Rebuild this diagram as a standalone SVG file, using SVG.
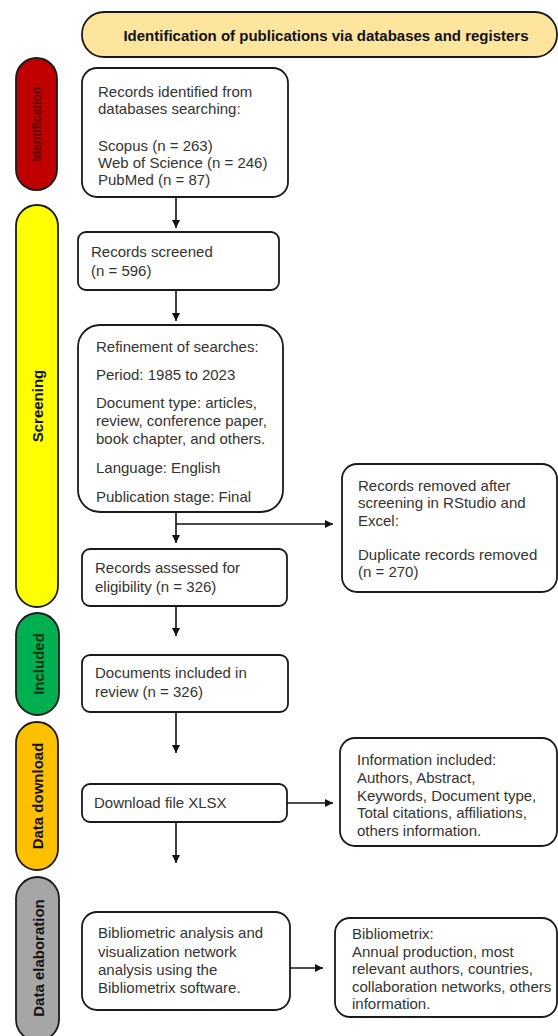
<svg xmlns="http://www.w3.org/2000/svg" width="558" height="1036" viewBox="0 0 558 1036">
<defs>
<style>
text{font-family:"Liberation Sans",Arial,sans-serif;}
.box{fill:#fff;stroke:#1a1a1a;stroke-width:1.8;}
.t{font-size:15px;fill:#333;}
.lbl{font-size:15px;font-weight:bold;fill:#111;text-anchor:middle;dominant-baseline:central;}
.pill{stroke:#1a1a1a;stroke-width:1.8;}
.conn{fill:none;stroke:#111;stroke-width:1.6;}
</style>
<marker id="ah" markerUnits="userSpaceOnUse" markerWidth="8" markerHeight="8" refX="8" refY="4" orient="auto">
<path d="M0,0 L8,4 L0,8 z" fill="#111"/>
</marker>
</defs>
<rect width="558" height="1036" fill="#fff"/>

<g id="banner">
<rect x="82" y="12" width="475" height="45" rx="22" fill="#fde59e" stroke="#1a1a1a" stroke-width="1.8"/>
<text x="326" y="35" font-size="15" font-weight="bold" fill="#111" text-anchor="middle" dominant-baseline="central">Identification of publications via databases and registers</text>
</g>

<g id="phase-identification">
<rect class="pill" x="16" y="58" width="41" height="132" rx="20.5" fill="#c00000"/>
<text class="lbl" transform="translate(37,124) rotate(-90)" style="font-size:12px;fill:#5a0000">Identification</text>
</g>
<g id="phase-screening">
<rect class="pill" x="16" y="205" width="42" height="402" rx="21" fill="#ffff00"/>
<text class="lbl" transform="translate(37,406) rotate(-90)">Screening</text>
</g>
<g id="phase-included">
<rect class="pill" x="16" y="613" width="43" height="102" rx="21.5" fill="#00b050"/>
<text class="lbl" transform="translate(38,664) rotate(-90)" style="fill:#10301a">Included</text>
</g>
<g id="phase-download">
<rect class="pill" x="16" y="722" width="42" height="148" rx="21" fill="#ffc000"/>
<text class="lbl" transform="translate(37,796) rotate(-90)">Data download</text>
</g>
<g id="phase-elaboration">
<rect class="pill" x="16" y="877" width="43" height="164" rx="21.5" fill="#a6a6a6"/>
<text class="lbl" transform="translate(38,958) rotate(-90)">Data elaboration</text>
</g>

<g id="records-identified">
<rect class="box" x="82" y="68" width="206" height="129" rx="15"/>
<text class="t" x="98" y="97">Records identified from</text>
<text class="t" x="98" y="114">databases searching:</text>
<text class="t" x="98" y="151">Scopus (n = 263)</text>
<text class="t" x="98" y="168">Web of Science (n = 246)</text>
<text class="t" x="98" y="185">PubMed (n = 87)</text>
</g>

<g id="records-screened">
<rect class="box" x="78" y="232" width="201" height="58" rx="8"/>
<text class="t" x="91" y="257">Records screened</text>
<text class="t" x="91" y="276">(n = 596)</text>
</g>

<g id="refinement">
<rect class="box" x="78" y="325" width="205" height="187" rx="22"/>
<text class="t" x="96" y="352">Refinement of searches:</text>
<text class="t" x="96" y="380">Period: 1985 to 2023</text>
<text class="t" x="96" y="408">Document type: articles,</text>
<text class="t" x="96" y="426">review, conference paper,</text>
<text class="t" x="96" y="444">book chapter, and others.</text>
<text class="t" x="96" y="473">Language: English</text>
<text class="t" x="96" y="502">Publication stage: Final</text>
</g>

<g id="records-removed">
<rect class="box" x="342" y="464" width="215" height="128" rx="15"/>
<text class="t" x="358" y="491">Records removed after</text>
<text class="t" x="358" y="508">screening in RStudio and</text>
<text class="t" x="358" y="526">Excel:</text>
<text class="t" x="358" y="560">Duplicate records removed</text>
<text class="t" x="358" y="577">(n = 270)</text>
</g>

<g id="records-assessed">
<rect class="box" x="82" y="549" width="205" height="57" rx="8"/>
<text class="t" x="95" y="573">Records assessed for</text>
<text class="t" x="95" y="592">eligibility (n = 326)</text>
</g>

<g id="documents-included">
<rect class="box" x="82" y="655" width="206" height="57" rx="8"/>
<text class="t" x="95" y="678">Documents included in</text>
<text class="t" x="95" y="697">review (n = 326)</text>
</g>

<g id="download-file">
<rect class="box" x="82" y="784" width="205" height="38" rx="8"/>
<text class="t" x="94" y="808">Download file XLSX</text>
</g>

<g id="information-included">
<rect class="box" x="340" y="738" width="217" height="108" rx="15"/>
<text class="t" x="357" y="765">Information included:</text>
<text class="t" x="357" y="783">Authors, Abstract,</text>
<text class="t" x="357" y="801">Keywords, Document type,</text>
<text class="t" x="357" y="818">Total citations, affiliations,</text>
<text class="t" x="357" y="836">others information.</text>
</g>

<g id="bibliometric-analysis">
<rect class="box" x="82" y="912" width="208" height="98" rx="15"/>
<text class="t" x="98" y="938">Bibliometric analysis and</text>
<text class="t" x="98" y="957">visualization network</text>
<text class="t" x="98" y="975">analysis using the</text>
<text class="t" x="98" y="993">Bibliometrix software.</text>
</g>

<g id="bibliometrix">
<rect class="box" x="335" y="918" width="222" height="99" rx="15"/>
<text class="t" x="352" y="939">Bibliometrix:</text>
<text class="t" x="352" y="957">Annual production, most</text>
<text class="t" x="352" y="974">relevant authors, countries,</text>
<text class="t" x="352" y="992">collaboration networks, others</text>
<text class="t" x="352" y="1009">information.</text>
</g>

<g id="connectors">
<line class="conn" x1="176" y1="197" x2="176" y2="228" marker-end="url(#ah)"/>
<line class="conn" x1="176" y1="290" x2="176" y2="321" marker-end="url(#ah)"/>
<line class="conn" x1="176" y1="512" x2="176" y2="543" marker-end="url(#ah)"/>
<line class="conn" x1="176" y1="524" x2="333" y2="524" marker-end="url(#ah)"/>
<line class="conn" x1="176" y1="606" x2="176" y2="636" marker-end="url(#ah)"/>
<line class="conn" x1="176" y1="712" x2="176" y2="753" marker-end="url(#ah)"/>
<line class="conn" x1="287" y1="803" x2="333" y2="803" marker-end="url(#ah)"/>
<line class="conn" x1="176" y1="822" x2="176" y2="863" marker-end="url(#ah)"/>
<line class="conn" x1="290" y1="968" x2="323" y2="968" marker-end="url(#ah)"/>
</g>
</svg>
